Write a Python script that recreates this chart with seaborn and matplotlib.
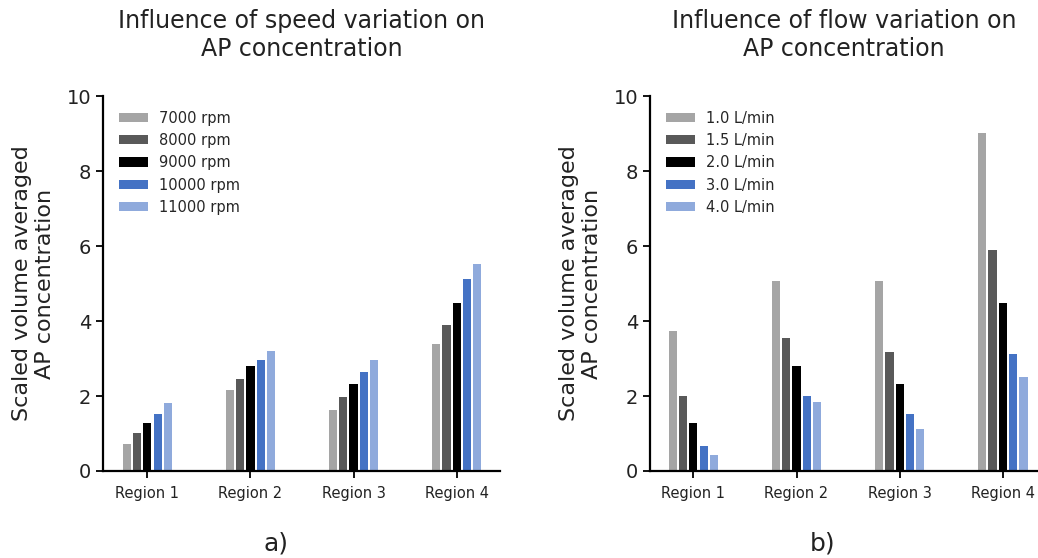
import numpy as np
import pandas as pd
import matplotlib
matplotlib.use("Agg")
import matplotlib.pyplot as plt
import seaborn as sns

regions = ["Region 1", "Region 2", "Region 3", "Region 4"]

speed_labels = ["7000 rpm", "8000 rpm", "9000 rpm", "10000 rpm", "11000 rpm"]
speed_values = [
    [0.71, 2.17, 1.62, 3.40],   # 7000 rpm
    [1.02, 2.45, 1.98, 3.89],   # 8000 rpm
    [1.29, 2.79, 2.32, 4.47],   # 9000 rpm
    [1.52, 2.96, 2.65, 5.12],   # 10000 rpm
    [1.81, 3.21, 2.96, 5.51],   # 11000 rpm
]

flow_labels = ["1.0 L/min", "1.5 L/min", "2.0 L/min", "3.0 L/min", "4.0 L/min"]
flow_values = [
    [3.74, 5.08, 5.06, 9.02],   # 1.0 L/min
    [1.99, 3.56, 3.17, 5.90],   # 1.5 L/min
    [1.29, 2.79, 2.32, 4.47],   # 2.0 L/min
    [0.67, 1.99, 1.53, 3.11],   # 3.0 L/min
    [0.42, 1.85, 1.11, 2.50],   # 4.0 L/min
]

colors = ["#a5a5a5", "#595959", "#000000", "#4472c4", "#8faadc"]

titles = ["Influence of speed variation on\nAP concentration",
          "Influence of flow variation on\nAP concentration"]
ylabel = "Scaled volume averaged\nAP concentration"
panel_labels = ["a)", "b)"]


def long_df(labels, values):
    rows = []
    for lab, vals in zip(labels, values):
        for reg, v in zip(regions, vals):
            rows.append({"Region": reg, "Series": lab, "Value": v})
    return pd.DataFrame(rows)


sns.set_theme(style="ticks")
plt.rcParams["font.family"] = ["DejaVu Sans"]

W, H = 1038, 558
fig = plt.figure(figsize=(W / 100, H / 100), dpi=100)

ax_specs = [
    (103, 500, (-0.43, 3.42)),
    (650, 1038, (-0.42, 3.34)),
]
top_px, bot_px = 96, 471

datasets = [(speed_labels, speed_values), (flow_labels, flow_values)]
label_x = [276, 823]

for i, ((labels, values), (x0, x1, xl)) in enumerate(zip(datasets, ax_specs)):
    ax = fig.add_axes([x0 / W, 1 - bot_px / H, (x1 - x0) / W, (bot_px - top_px) / H])
    df = long_df(labels, values)
    sns.barplot(data=df, x="Region", y="Value", hue="Series",
                order=regions, hue_order=labels, palette=colors,
                width=0.5, gap=0.2, linewidth=0, saturation=1,
                errorbar=None, ax=ax)
    ax.set_xlim(*xl)
    ax.set_ylim(0, 10)
    ax.set_yticks([0, 2, 4, 6, 8, 10])
    ax.set_xlabel("")
    ax.set_ylabel(ylabel, fontsize=16, labelpad=8, color="#222222")
    ax.set_title(titles[i], fontsize=17, pad=29, color="#222222", linespacing=1.2)
    ax.tick_params(axis="y", labelsize=14, length=5, width=1.3, colors="black")
    ax.tick_params(axis="x", labelsize=10.5, length=5, width=1.3, colors="black", pad=6)
    for lbl in ax.get_xticklabels() + ax.get_yticklabels():
        lbl.set_color("#222222")
    sns.despine(ax=ax)
    for s in ["left", "bottom"]:
        ax.spines[s].set_linewidth(1.6)
        ax.spines[s].set_color("black")
    handles, labs = ax.get_legend_handles_labels()
    ax.legend(handles, labs, loc="upper left", frameon=False, fontsize=10.5,
              labelspacing=0.5, handlelength=2.0, handleheight=0.6,
              borderaxespad=0.4, bbox_to_anchor=(0.01, 0.992))
    fig.text(label_x[i] / W, 1 - 544 / H, panel_labels[i], ha="center", va="center",
             fontsize=18, color="#222222")

fig.savefig("out.png", dpi=100)
